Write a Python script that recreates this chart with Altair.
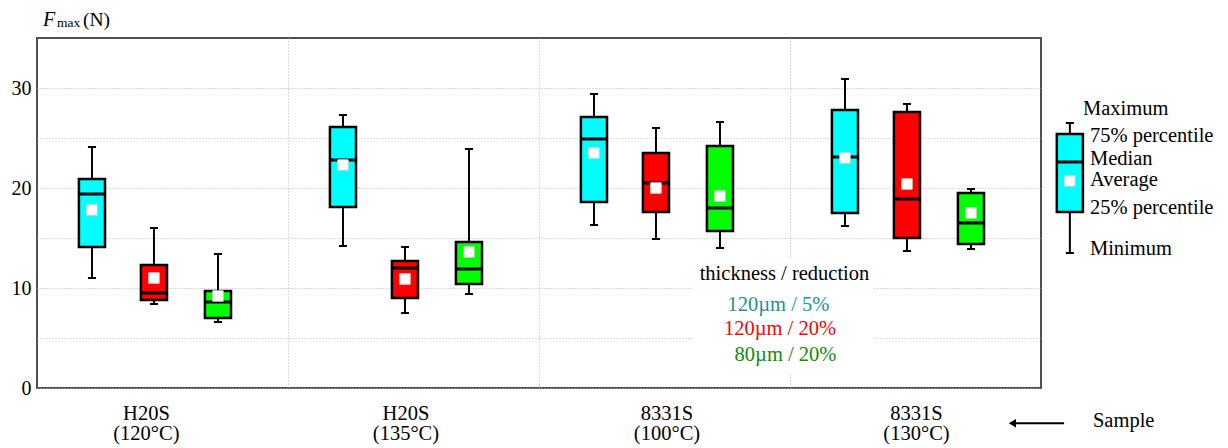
import altair as alt
import pandas as pd

# ---- data ----
samples = ["H20S", "H20S", "8331S", "8331S"]
temps = ["(120°C)", "(135°C)", "(100°C)", "(130°C)"]
series = ["120µm / 5%", "120µm / 20%", "80µm / 20%"]

mins = [[11.0, 14.2, 16.3, 16.2], [8.4, 7.5, 14.9, 13.7], [6.6, 9.4, 14.0, 13.9]]
q1s = [[14.1, 18.1, 18.6, 17.5], [8.8, 9.0, 17.6, 15.0], [7.0, 10.4, 15.7, 14.4]]
medians = [[19.4, 22.8, 24.9, 23.1], [9.5, 12.0, 20.5, 18.9], [8.6, 11.9, 18.0, 16.5]]
means = [[17.8, 22.3, 23.5, 23.0], [11.0, 10.9, 20.0, 20.4], [9.2, 13.6, 19.2, 17.5]]
q3s = [[20.9, 26.1, 27.1, 27.8], [12.3, 12.7, 23.5, 27.6], [9.7, 14.6, 24.2, 19.5]]
maxs = [[24.1, 27.3, 29.4, 30.9], [16.0, 14.1, 26.0, 28.4], [13.4, 23.9, 26.6, 19.9]]

# explanatory example box (right side)
key_stats = [13.5, 17.6, 22.6, 20.7, 25.4, 26.5]  # min, q1, median, mean, q3, max
key_labels = ["Maximum", "75% percentile", "Median", "Average", "25%  percentile", "Minimum"]
key_label_y = [27.9, 25.2, 22.9, 20.8, 18.0, 13.9]

# ---- layout constants ----
offsets = [0.219, 0.466, 0.721]
label_x = [0.436, 1.470, 2.510, 3.504]
key_pos = 4.115
half_w = 0.052
cap_w = 0.016
fills = ["#00FFFF", "#FF0000", "#00FF00"]
text_cols = ["#1a9494", "#FF0000", "#0c8c0c"]
FONT = "Liberation Serif, Times New Roman, DejaVu Serif, serif"
FS = 20.5

rows = []
for si, s in enumerate(series):
    for ci in range(4):
        rows.append(dict(series=s, pos=ci + offsets[si], mn=mins[si][ci], q1=q1s[si][ci],
                         med=medians[si][ci], avg=means[si][ci], q3=q3s[si][ci], mx=maxs[si][ci]))
rows.append(dict(series="key", pos=key_pos, mn=key_stats[0], q1=key_stats[1], med=key_stats[2],
                 avg=key_stats[3], q3=key_stats[4], mx=key_stats[5]))
df = pd.DataFrame(rows)

xscale = alt.Scale(domain=[0, 4], nice=False, zero=False)
yscale = alt.Scale(domain=[0, 35], nice=False)
color = alt.Color("series:N", scale=alt.Scale(domain=series + ["key"], range=fills + [fills[0]]), legend=None)

xax = alt.Axis(values=[1, 2, 3], grid=True, labels=False, ticks=False, domain=False, title=None,
               gridDash=[1, 2], gridColor="#b8b8b8", gridWidth=1)
yax = alt.Axis(values=[0, 5, 10, 15, 20, 25, 30], grid=True, ticks=False, domain=False, title=None,
               labelExpr="datum.value % 10 == 0 ? datum.label : ''", labelFont=FONT, labelFontSize=20,
               labelColor="black", labelPadding=6, gridDash=[1, 2], gridColor="#b8b8b8", gridWidth=1)

base = alt.Chart(df).transform_calculate(
    xa="datum.pos - %f" % half_w, xb="datum.pos + %f" % half_w,
    ca="datum.pos - %f" % cap_w, cb="datum.pos + %f" % cap_w)

# background for the annotation block
bg = alt.Chart(pd.DataFrame({"a": [2.61], "b": [3.33], "lo": [1.5], "hi": [12.8]})).mark_rect(
    fill="white").encode(x=alt.X("a:Q", scale=xscale, axis=xax), x2="b:Q",
                         y=alt.Y("lo:Q", scale=yscale, axis=yax), y2="hi:Q")

whisk_lo = base.mark_rule(color="black", strokeWidth=2).encode(
    x=alt.X("pos:Q", scale=xscale), y=alt.Y("mn:Q", scale=yscale), y2="q1:Q")
whisk_hi = base.mark_rule(color="black", strokeWidth=2).encode(
    x=alt.X("pos:Q", scale=xscale), y=alt.Y("q3:Q", scale=yscale), y2="mx:Q")
cap_lo = base.mark_rule(color="black", strokeWidth=2).encode(
    x=alt.X("ca:Q", scale=xscale), x2="cb:Q", y=alt.Y("mn:Q", scale=yscale))
cap_hi = base.mark_rule(color="black", strokeWidth=2).encode(
    x=alt.X("ca:Q", scale=xscale), x2="cb:Q", y=alt.Y("mx:Q", scale=yscale))
boxes = base.mark_rect(stroke="black", strokeWidth=2.5).encode(
    x=alt.X("xa:Q", scale=xscale), x2="xb:Q", y=alt.Y("q1:Q", scale=yscale), y2="q3:Q", color=color)
med = base.mark_rule(color="black", strokeWidth=3).encode(
    x=alt.X("xa:Q", scale=xscale), x2="xb:Q", y=alt.Y("med:Q", scale=yscale))
avg = base.mark_square(size=110, fill="white", stroke="#d0d0d0", strokeWidth=1, opacity=1).encode(
    x=alt.X("pos:Q", scale=xscale), y=alt.Y("avg:Q", scale=yscale))

# x category labels
lab = pd.DataFrame({"x": label_x, "s": samples, "t": temps, "y1": [-2.55] * 4, "y2": [-4.6] * 4})
xl1 = alt.Chart(lab).mark_text(font=FONT, fontSize=FS, color="black").encode(
    x=alt.X("x:Q", scale=xscale), y=alt.Y("y1:Q", scale=yscale), text="s:N")
xl2 = alt.Chart(lab).mark_text(font=FONT, fontSize=FS, color="black").encode(
    x=alt.X("x:Q", scale=xscale), y=alt.Y("y2:Q", scale=yscale), text="t:N")

# annotation block
ann = pd.DataFrame({"x": [2.978, 2.954, 2.960, 2.982], "y": [11.4, 8.35, 5.9, 3.35],
                    "t": ["thickness / reduction"] + series, "c": ["black"] + text_cols})
ann_t = alt.Chart(ann).mark_text(font=FONT, fontSize=FS).encode(
    x=alt.X("x:Q", scale=xscale), y=alt.Y("y:Q", scale=yscale), text="t:N",
    color=alt.Color("c:N", scale=None))

# key labels
kl = pd.DataFrame({"x": [4.167] + [4.195] * 5, "y": key_label_y, "t": key_labels})
key_t = alt.Chart(kl).mark_text(font=FONT, fontSize=FS, align="left", color="black").encode(
    x=alt.X("x:Q", scale=xscale), y=alt.Y("y:Q", scale=yscale), text="t:N")

# y axis title F_max (N)
yt_f = alt.Chart(pd.DataFrame({"x": [0.024], "y": [36.2], "t": ["F"]})).mark_text(
    font=FONT, align="left", baseline="alphabetic", color="black", fontSize=20, fontStyle="italic").encode(
    x=alt.X("x:Q", scale=xscale), y=alt.Y("y:Q", scale=yscale), text="t:N")
yt_sub = alt.Chart(pd.DataFrame({"x": [0.080], "y": [36.1], "t": ["max"]})).mark_text(
    font=FONT, align="left", baseline="alphabetic", color="black", fontSize=13.5).encode(
    x=alt.X("x:Q", scale=xscale), y=alt.Y("y:Q", scale=yscale), text="t:N")
yt_n = alt.Chart(pd.DataFrame({"x": [0.183], "y": [36.25], "t": ["(N)"]})).mark_text(
    font=FONT, align="left", baseline="alphabetic", color="black", fontSize=19.5).encode(
    x=alt.X("x:Q", scale=xscale), y=alt.Y("y:Q", scale=yscale), text="t:N")

# Sample arrow
arr = pd.DataFrame({"a": [3.886], "b": [4.092], "y": [-3.53]})
arrow_line = alt.Chart(arr).mark_rule(color="black", strokeWidth=2).encode(
    x=alt.X("a:Q", scale=xscale), x2="b:Q", y=alt.Y("y:Q", scale=yscale))
arrow_head = alt.Chart(arr).mark_point(shape="triangle-left", filled=True, color="black", size=70, opacity=1).encode(
    x=alt.X("a:Q", scale=xscale), y=alt.Y("y:Q", scale=yscale))
smp = pd.DataFrame({"x": [4.207], "y": [-3.3], "t": ["Sample"]})
smp_t = alt.Chart(smp).mark_text(font=FONT, fontSize=FS, align="left", color="black").encode(
    x=alt.X("x:Q", scale=xscale), y=alt.Y("y:Q", scale=yscale), text="t:N")

chart = alt.layer(bg, whisk_lo, whisk_hi, cap_lo, cap_hi, boxes, med, avg, xl1, xl2, ann_t, key_t,
                  yt_f, yt_sub, yt_n, arrow_line, arrow_head, smp_t).properties(
    width=1004, height=350,
    padding={"left": 29, "top": 30, "right": 175, "bottom": 58},
    autosize=alt.AutoSizeParams(type="none"),
    background="white",
).configure_view(stroke="#505050", strokeWidth=2)

chart.save("out.html", embed_options={"renderer": "svg", "actions": False})
